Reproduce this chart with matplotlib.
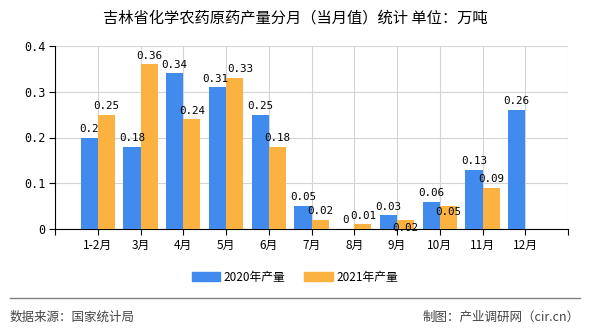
import matplotlib
matplotlib.use("Agg")
import matplotlib.pyplot as plt
import numpy as np

plt.rcParams['font.family'] = ['Noto Sans CJK SC', 'DejaVu Sans']

categories = ['1-2月', '3月', '4月', '5月', '6月', '7月', '8月', '9月', '10月', '11月', '12月']
v2020 = [0.2, 0.18, 0.34, 0.31, 0.25, 0.05, 0, 0.03, 0.06, 0.13, 0.26]
v2021 = [0.25, 0.36, 0.24, 0.33, 0.18, 0.02, 0.01, 0.02, 0.05, 0.09, None]
yticks = [0, 0.1, 0.2, 0.3, 0.4]
ytick_labels = ['0', '0.1', '0.2', '0.3', '0.4']

c2020 = '#418bee'
c2021 = '#fbb241'

fig = plt.figure(figsize=(5.9, 3.3), dpi=100)
ax = fig.add_axes([55/590, 1-229/330, (568-55)/590, (229-46)/330])

x = np.arange(1, len(categories)+1)
w = 0.4
for xi, v in zip(x, v2020):
    ax.bar(xi - w/2, v, w, color=c2020, zorder=3)
for xi, v in zip(x, v2021):
    if v is not None:
        ax.bar(xi + w/2, v, w, color=c2021, zorder=3)

mono = ['DejaVu Sans Mono', 'Noto Sans CJK SC']
fs_lbl = 7.8
for i, (xi, v) in enumerate(zip(x, v2020)):
    lbl = f'{v:g}'
    dx = -0.06 if categories[i] == '5月' else 0
    ax.text(xi - w/2 + dx, v + 0.008, lbl, ha='center', va='bottom', fontsize=fs_lbl, family=mono, zorder=5)
for i, (xi, v) in enumerate(zip(x, v2021)):
    if v is None:
        continue
    lbl = f'{v:g}'
    yoff = 0.008
    dx = 0
    if categories[i] == '9月':
        yoff = -0.028
    elif categories[i] == '10月':
        yoff = -0.023
    elif categories[i] == '5月':
        dx = 0.14
    ax.text(xi + w/2 + dx, v + yoff, lbl, ha='center', va='bottom', fontsize=fs_lbl, family=mono, zorder=5)

ax.set_xlim(0, 12)
ax.set_ylim(0, 0.4)
ax.set_xticks(np.arange(0, 13))
ax.set_xticklabels([''] + categories + [''], fontsize=8.5)
ax.set_yticks(yticks)
ax.set_yticklabels(ytick_labels, fontsize=8.5, family=mono)
ax.grid(True, color='#d4d4d4', linewidth=0.8, zorder=0)
ax.set_axisbelow(True)
for s in ['top', 'right']:
    ax.spines[s].set_visible(False)
ax.spines['left'].set_color('black')
ax.spines['bottom'].set_color('black')
ax.tick_params(axis='both', direction='out', length=4, color='black', pad=3)

fig.text(295/590, 1-18/330, '吉林省化学农药原药产量分月（当月值）统计 单位：万吨', ha='center', va='center', fontsize=11)

from matplotlib.patches import Patch
handles = [Patch(color=c2020, label='2020年产量'), Patch(color=c2021, label='2021年产量')]
fig.legend(handles=handles, loc='center', bbox_to_anchor=(295/590, 1-277/330), ncol=2, frameon=False,
           fontsize=8.5, handlelength=2.4, handleheight=0.8, columnspacing=1.6, handletextpad=0.3)

fig.add_artist(plt.Line2D([10/590, 580/590], [1-298/330, 1-298/330], color='#808080', linewidth=1))
fig.text(10/590, 1-317/330, '数据来源：国家统计局', ha='left', va='center', fontsize=9, color='#444444')
fig.text(580/590, 1-317/330, '制图：产业调研网（cir.cn）', ha='right', va='center', fontsize=9, color='#444444')

fig.savefig('out.png', dpi=100)
